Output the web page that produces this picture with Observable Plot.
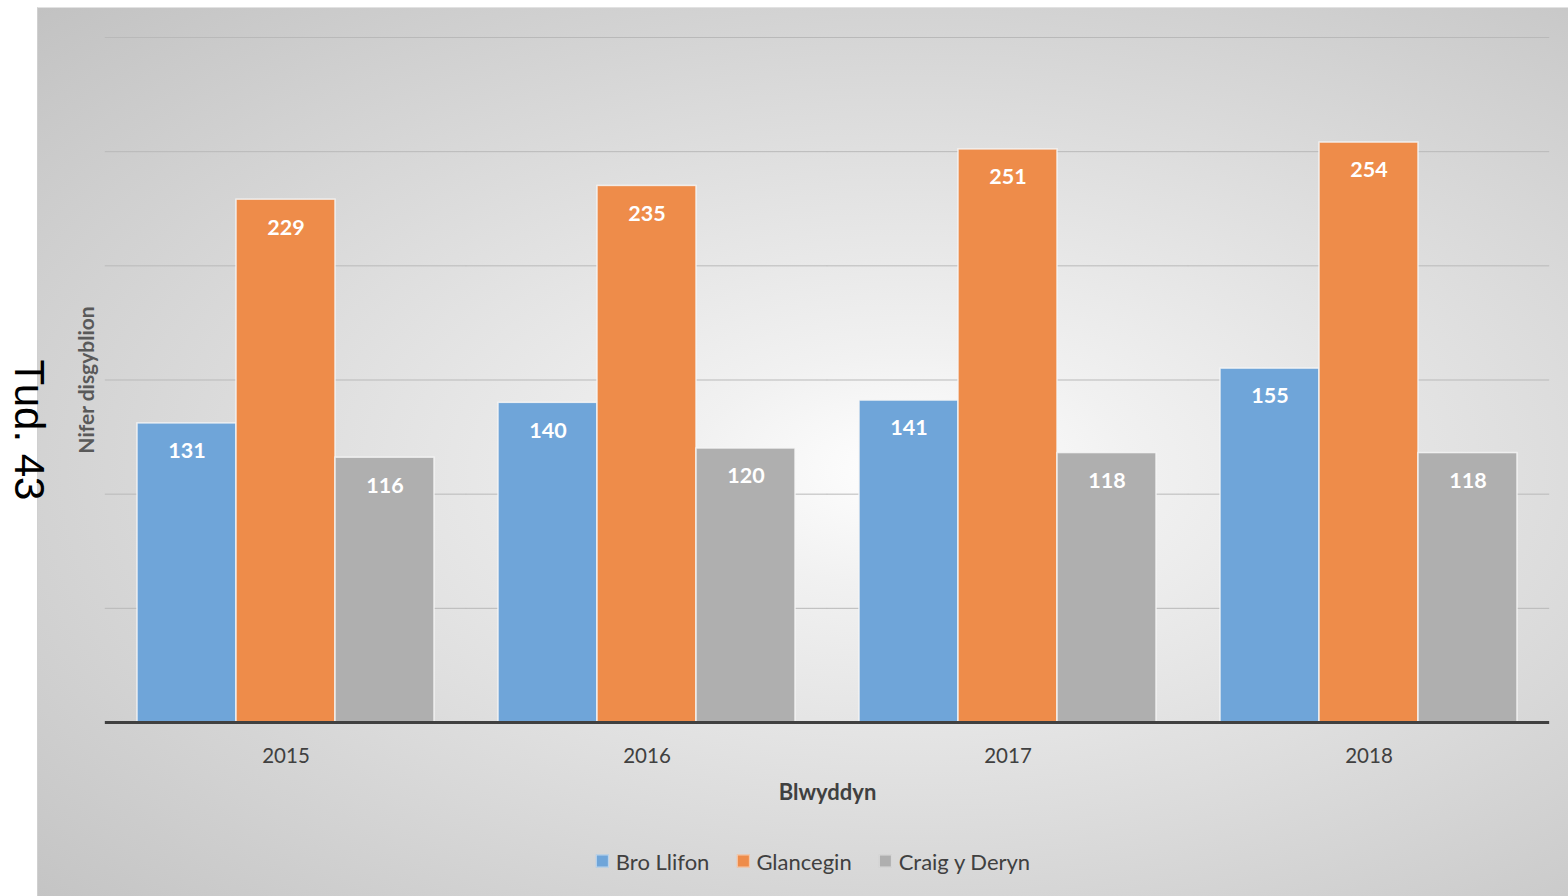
<!DOCTYPE html>
<html>
<head>
<meta charset="utf-8">
<script src="https://cdn.jsdelivr.net/npm/d3@7"></script>
<script src="https://cdn.jsdelivr.net/npm/@observablehq/plot@0.6"></script>
<style>
  html, body { margin: 0; padding: 0; background: #ffffff; }
  #page { position: relative; width: 1568px; height: 896px; overflow: hidden; font-family: Lato, "Open Sans", sans-serif; }
  #panel { position: absolute; left: 37px; top: 7px; width: 1531px; height: 889px;
    background: radial-gradient(ellipse farthest-corner at 57% 52%, #ffffff 0%, #f1f1f1 18%, #c2c2c2 100%);
    border-top: 1px solid #e2e2e2; border-left: 1px solid #d0d0d0; box-sizing: border-box; }
  #chart { position: absolute; left: 0; top: 0; }
  #legend { position: absolute; left: 813px; top: 861px; transform: translate(-50%, -50%);
    display: flex; align-items: center; gap: 27px; font-size: 22px; color: #404040; white-space: nowrap; }
  .item { display: flex; align-items: center; gap: 7px; }
  .sw { width: 13px; height: 13px; display: inline-block; box-sizing: border-box; border: 1px solid rgba(255,255,255,0.55); }
  #tud { position: absolute; left: 29px; top: 430px; transform: translate(-50%, -50%) rotate(90deg);
    font-family: "Liberation Sans", Arial, sans-serif; font-size: 42px; color: #000; white-space: nowrap; }
</style>
</head>
<body>
<div id="page">
  <div id="panel"></div>
  <div id="chart"></div>
  <div id="legend"></div>
  <div id="tud">Tud. 43</div>
</div>
<script>
const years = ["2015", "2016", "2017", "2018"];
const series = ["Bro Llifon", "Glancegin", "Craig y Deryn"];
const broLlifon = [131, 140, 141, 155];
const glancegin = [229, 235, 251, 254];
const craigYDeryn = [116, 120, 118, 118];
const colors = ["#6fa5d9", "#ee8c4a", "#afafaf"];
const yTicks = [50, 100, 150, 200, 250, 300];
const xTitle = "Blwyddyn";
const yTitle = "Nifer disgyblion";

const seriesValues = [broLlifon, glancegin, craigYDeryn];
const data = years.flatMap((yr, i) => series.map((s, j) => ({year: yr, series: s, value: seriesValues[j][i]})));

const W = 1568, ML = 104, MR = 18;
const groupPad = 0.178;
const step = (W - ML - MR) / years.length;
const gapHalf = groupPad * step / 2; // rules extend across the gap between facets
const ruleInset = -gapHalf;

const chart = Plot.plot({
  width: W,
  height: 830,
  marginLeft: ML,
  marginRight: MR,
  marginTop: 37,
  marginBottom: 108,
  style: {background: "transparent", fontFamily: "Lato, 'Open Sans', sans-serif", overflow: "visible"},
  fx: {domain: years, paddingInner: groupPad, paddingOuter: groupPad / 2, label: null, axis: null},
  x: {domain: series, padding: 0, axis: null},
  y: {domain: [0, 300], axis: null},
  color: {domain: series, range: colors},
  marks: [
    Plot.ruleY(yTicks, {stroke: "#b9b9b9", strokeWidth: 1, insetLeft: ruleInset, insetRight: ruleInset}),
    Plot.barY(data, {fx: "year", x: "series", y: "value", fill: "series",
      stroke: "#f6f6f6", strokeWidth: 1.5, strokeOpacity: 0.85}),
    Plot.text(data, {fx: "year", x: "series", y: "value", text: d => String(d.value),
      dy: 28, fill: "white", fontWeight: "bold", fontSize: 21.5}),
    Plot.ruleY([0], {stroke: "#404040", strokeWidth: 3, insetLeft: ruleInset, insetRight: ruleInset}),
    Plot.axisFx({anchor: "bottom", tickSize: 0, tickPadding: 26, fontSize: 20.5, color: "#404040", label: null}),
    Plot.text([xTitle], {facet: "super", frameAnchor: "bottom", lineAnchor: "middle", textAnchor: "middle",
      dy: 70, text: d => d, fontWeight: "bold", fontSize: 22, fill: "#404040"}),
    Plot.text([yTitle], {facet: "super", frameAnchor: "left", textAnchor: "middle", lineAnchor: "middle",
      rotate: -90, dx: -50, text: d => d, fontWeight: "bold", fontSize: 21, fill: "#595959"})
  ]
});
document.getElementById("chart").appendChild(chart);

const legend = document.getElementById("legend");
series.forEach((s, i) => {
  const item = document.createElement("div");
  item.className = "item";
  const sw = document.createElement("span");
  sw.className = "sw";
  sw.style.background = colors[i];
  const t = document.createElement("span");
  t.textContent = s;
  item.appendChild(sw);
  item.appendChild(t);
  legend.appendChild(item);
});
</script>
</body>
</html>
